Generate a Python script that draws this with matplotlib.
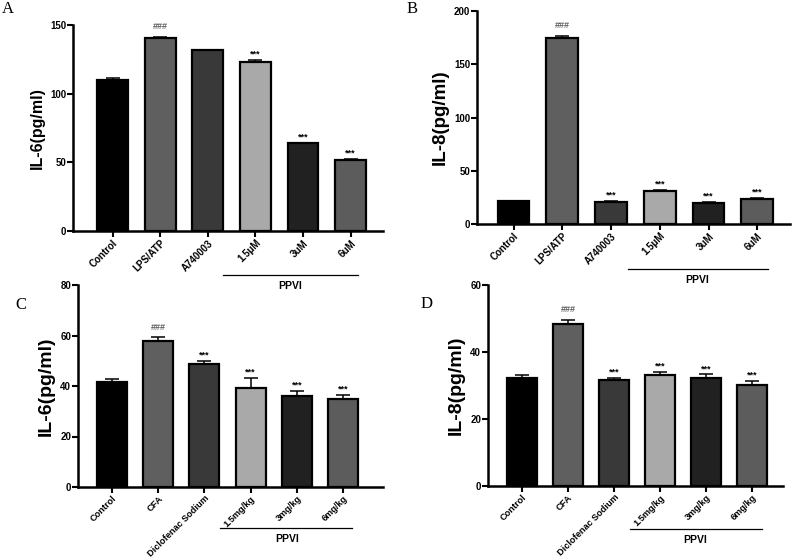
import numpy as np
import matplotlib as mpl
mpl.use('Agg')
import matplotlib.pyplot as plt
import matplotlib.transforms as mtransforms

plt.rcParams['font.family'] = ['Liberation Sans', 'DejaVu Sans']
plt.rcParams['font.weight'] = 'bold'

# --- data

groups_ab = ['Control', 'LPS/ATP', 'A740003', '1.5μM', '3uM', '6uM']
groups_cd = ['Control', 'CFA', 'Diclofenac Sodium', '1.5mg/kg', '3mg/kg', '6mg/kg']

il6_cells = [109.6, 140.8, 131.6, 123.3, 63.8, 51.9]
il6_cells_err = [1.5, 0.8, 0.4, 1.0, 0.6, 0.5]
il8_cells = [21.2, 174.4, 21.0, 31.2, 20.0, 23.7]
il8_cells_err = [0.6, 2.2, 0.6, 0.8, 1.0, 0.8]

il6_rats = [41.4, 57.7, 48.8, 39.3, 36.2, 35.0]
il6_rats_err = [1.4, 1.6, 1.2, 3.8, 1.8, 1.3]
il8_rats = [32.2, 48.4, 31.5, 33.0, 32.2, 30.1]
il8_rats_err = [1.0, 1.2, 0.7, 0.9, 1.1, 1.2]

marks = ['', '###', '', '***', '***', '***']
marks_b = ['', '###', '***', '***', '***', '***']

bar_colors = ['#000000', '#5f5f5f', '#393939', '#a9a9a9', '#212121', '#5c5c5c']

W, H = 793, 560
fig = plt.figure(figsize=(W/100, H/100), dpi=100)


def px_axes(left, right, top, bottom):
    return fig.add_axes([left/W, 1-bottom/H, (right-left)/W, (bottom-top)/H])


panels = [
    # letter, axes px box, xlim, ylim, yticks, groups, vals, errs, marks, ylabel, fs, tick fs, ppvi line, ppvi text
    ('A', (73, 383, 25, 231), (-0.83, 5.68), 150, [0, 50, 100, 150], groups_ab, il6_cells, il6_cells_err, marks,
     'IL-6(pg/ml)', 11.5, 7, (2.32, 5.16, -0.214), (3.73, -0.267), (2, 1)),
    ('B', (477, 790, 11, 224), (-0.75, 5.67), 200, [0, 50, 100, 150, 200], groups_ab, il8_cells, il8_cells_err, marks_b,
     'IL-8(pg/ml)', 13.5, 7, (2.35, 5.21, -0.211), (3.76, -0.263), (407, 1)),
    ('C', (78, 383, 285, 487), (-0.74, 5.87), 80, [0, 20, 40, 60, 80], groups_cd, il6_rats, il6_rats_err, marks_b,
     'IL-6(pg/ml)', 14, 6.6, (2.34, 5.19, -0.203), (3.79, -0.257), (15, 297)),
    ('D', (488, 783, 285, 486), (-0.74, 5.67), 60, [0, 20, 40, 60], groups_cd, il8_rats, il8_rats_err, marks_b,
     'IL-8(pg/ml)', 14, 6.6, (2.35, 5.22, -0.214), (3.76, -0.27), (421, 296)),
]

for (letter, box, xlim, ymax, yticks, groups, vals, errs, mk, ylabel, lfs, tfs,
     line, ptxt, lpos) in panels:

    ax = px_axes(*box)
    ax.patch.set_visible(False)
    x = np.arange(len(groups))

    ax.bar(x, vals, width=0.65, color=bar_colors, edgecolor='black', linewidth=1.6, zorder=3)
    ax.errorbar(x, vals, yerr=[np.zeros(len(errs)), errs], fmt='none', ecolor='black',
                elinewidth=1.1, capsize=5, capthick=1.1, zorder=2)

    for xi, v, e, m in zip(x, vals, errs, mk):
        if not m:
            continue
        if m == '###':
            ax.annotate(m, (xi, v+e), xytext=(0, 4), textcoords='offset points', ha='center', va='bottom',
                        fontsize=6.5, color='#606060')
        else:
            ax.annotate(m, (xi, v+e), xytext=(0, 1), textcoords='offset points', ha='center', va='bottom',
                        fontsize=6.5, color='black')

    ax.set_xlim(*xlim)
    ax.set_ylim(0, ymax)
    ax.set_yticks(yticks)
    ax.set_xticks(x)
    ax.set_xticklabels(groups, rotation=45, ha='right', va='top', rotation_mode='anchor',
                       fontsize=tfs, fontweight='bold')
    ax.tick_params(axis='y', labelsize=7, width=1.5, length=4, direction='out', pad=1)
    ax.tick_params(axis='x', width=1.5, length=4, direction='out', pad=1)
    for lab in ax.get_yticklabels():
        lab.set_fontweight('bold')

    ax.spines['top'].set_visible(False)
    ax.spines['right'].set_visible(False)
    ax.spines['left'].set_linewidth(1.8)
    ax.spines['bottom'].set_linewidth(1.8)

    ax.set_ylabel(ylabel, fontsize=lfs, fontweight='bold', labelpad=4)

    # PPVI bracket under the dose groups
    trans = mtransforms.blended_transform_factory(ax.transData, ax.transAxes)
    ax.plot([line[0], line[1]], [line[2], line[2]], color='black', lw=0.9, transform=trans, clip_on=False)
    ax.text(ptxt[0], ptxt[1], 'PPVI', transform=trans, ha='center', va='center', fontsize=7.5, fontweight='bold')

    fig.text(lpos[0]/W, 1-lpos[1]/H, letter, ha='left', va='top', fontsize=12,
             family=['Liberation Serif', 'DejaVu Serif'], fontweight='normal')

fig.savefig('out.png', dpi=100)
